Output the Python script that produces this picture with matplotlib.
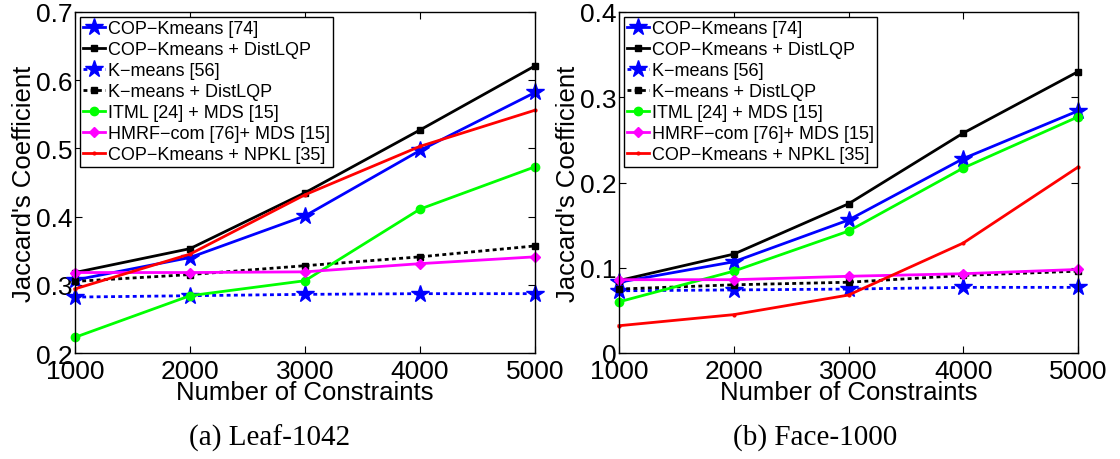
import matplotlib
matplotlib.use("Agg")
import matplotlib.pyplot as plt
from matplotlib.ticker import FuncFormatter

plt.rcParams['font.family'] = ['Liberation Sans', 'DejaVu Sans']

constraints = [1000, 2000, 3000, 4000, 5000]

labels = [
    "COP\u2212Kmeans [74]",
    "COP\u2212Kmeans + DistLQP",
    "K\u2212means [56]",
    "K\u2212means + DistLQP",
    "ITML [24] + MDS [15]",
    "HMRF\u2212com [76]+ MDS [15]",
    "COP\u2212Kmeans + NPKL [35]",
]

# Leaf-1042
leaf_cop_kmeans = [0.307, 0.340, 0.401, 0.497, 0.582]
leaf_cop_distlqp = [0.318, 0.353, 0.435, 0.527, 0.621]
leaf_kmeans = [0.282, 0.284, 0.286, 0.287, 0.287]
leaf_kmeans_distlqp = [0.305, 0.315, 0.328, 0.341, 0.357]
leaf_itml = [0.223, 0.284, 0.306, 0.411, 0.473]
leaf_hmrf = [0.318, 0.318, 0.319, 0.331, 0.341]
leaf_npkl = [0.294, 0.345, 0.432, 0.503, 0.556]

# Face-1000
face_cop_kmeans = [0.083, 0.107, 0.156, 0.228, 0.284]
face_cop_distlqp = [0.085, 0.116, 0.175, 0.258, 0.330]
face_kmeans = [0.073, 0.074, 0.075, 0.077, 0.077]
face_kmeans_distlqp = [0.075, 0.080, 0.083, 0.091, 0.096]
face_itml = [0.060, 0.096, 0.143, 0.217, 0.277]
face_hmrf = [0.086, 0.086, 0.090, 0.093, 0.098]
face_npkl = [0.032, 0.045, 0.068, 0.129, 0.218]

styles = [
    dict(color=(0, 0, 1), ls='-', marker='*', ms=13),
    dict(color='k', ls='-', marker='s', ms=5),
    dict(color=(0, 0, 1), ls=(0, (1.4, 1.2)), marker='*', ms=13),
    dict(color='k', ls=(0, (1.4, 1.2)), marker='s', ms=5),
    dict(color=(0, 1, 0), ls='-', marker='o', ms=6),
    dict(color=(1, 0, 1), ls='-', marker='D', ms=5.5),
    dict(color=(1, 0, 0), ls='-', marker='.', ms=4),
]

fig = plt.figure(figsize=(11.2, 4.6), dpi=100)
ax1 = fig.add_axes([75/1120, 106/460, 460/1120, 341/460])
ax2 = fig.add_axes([619/1120, 106/460, 459/1120, 341/460])

panels = [
    (ax1, [leaf_cop_kmeans, leaf_cop_distlqp, leaf_kmeans, leaf_kmeans_distlqp,
           leaf_itml, leaf_hmrf, leaf_npkl], (0.2, 0.7), [0.2, 0.3, 0.4, 0.5, 0.6, 0.7]),
    (ax2, [face_cop_kmeans, face_cop_distlqp, face_kmeans, face_kmeans_distlqp,
           face_itml, face_hmrf, face_npkl], (0.0, 0.4), [0, 0.1, 0.2, 0.3, 0.4]),
]

for ax, series, ylim, yticks in panels:
    for vals, lab, st in zip(series, labels, styles):
        ax.plot(constraints, vals, label=lab, lw=2.0, color=st['color'],
                linestyle=st['ls'], marker=st['marker'], markersize=st['ms'],
                markeredgecolor=st['color'], markerfacecolor=st['color'],
                clip_on=False)
    ax.set_xlim(1000, 5000)
    ax.set_ylim(*ylim)
    ax.set_xticks(constraints)
    ax.set_yticks(yticks)
    ax.yaxis.set_major_formatter(FuncFormatter(lambda v, p: ('%g' % round(v, 3))))
    ax.tick_params(direction='in', top=True, right=True, length=5, width=0.8,
                   labelsize=19, pad=2)
    ax.tick_params(axis='x', pad=4)
    for sp in ax.spines.values():
        sp.set_linewidth(1.0)
    ax.set_xlabel("Number of Constraints", fontsize=18.5, labelpad=-2)
    ax.set_ylabel("Jaccard's Coefficient", fontsize=18.5, labelpad=0)
    leg = ax.legend(loc='upper left', fontsize=13, frameon=True, fancybox=False,
                    edgecolor='k', framealpha=1, borderaxespad=0.25,
                    handlelength=1.2, handletextpad=0.15, labelspacing=0.22,
                    borderpad=0.2, numpoints=1)
    leg.get_frame().set_linewidth(1.0)

fig.text(270/1120, 1 - 438/460, "(a) Leaf-1042", ha='center', va='center',
         fontsize=21, family=['Liberation Serif', 'DejaVu Serif'])
fig.text(815/1120, 1 - 438/460, "(b) Face-1000", ha='center', va='center',
         fontsize=21, family=['Liberation Serif', 'DejaVu Serif'])

fig.savefig("out.png", dpi=100)
